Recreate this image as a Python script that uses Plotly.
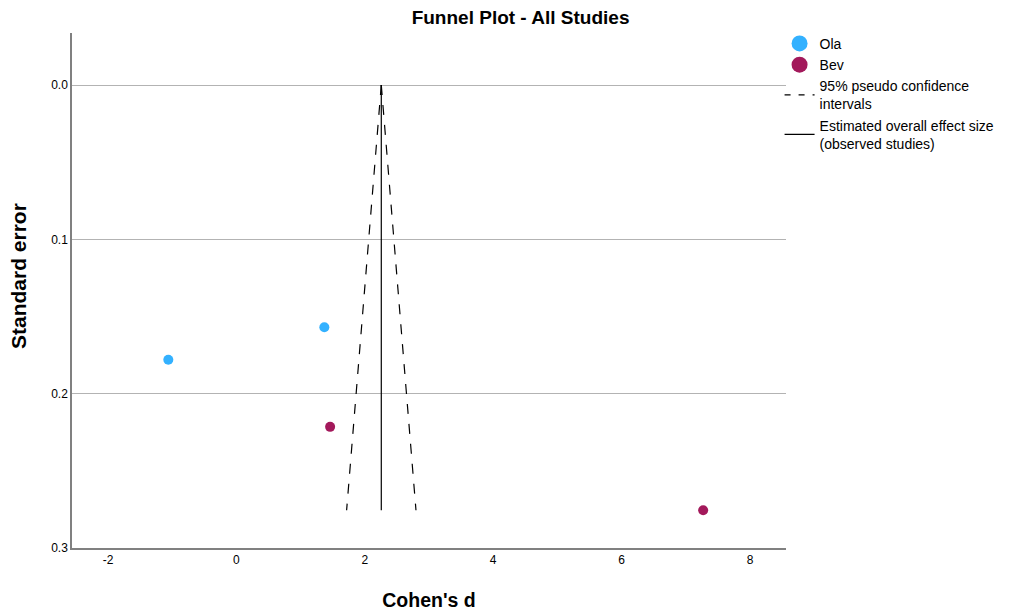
import plotly.graph_objects as go

# Study data
ola_d = [-1.06, 1.37]
ola_se = [0.178, 0.157]
bev_d = [1.46, 7.27]
bev_se = [0.2215, 0.2755]

# Pooled estimate and pseudo CI endpoints
effect_x = [2.257, 2.257]
effect_y = [0.0, 0.2755]
ci_left_x = [2.257, 1.717]
ci_right_x = [2.257, 2.797]
ci_y = [0.0, 0.2755]

y_ticks = [0.0, 0.1, 0.2, 0.3]
y_tick_text = ["0.0", "0.1", "0.2", "0.3"]
x_ticks = [-2, 0, 2, 4, 6, 8]
x_tick_text = ["-2", "0", "2", "4", "6", "8"]

ola_color = "#33B1FF"
bev_color = "#A3195B"

fig = go.Figure()

fig.add_trace(go.Scatter(x=ci_left_x, y=ci_y, mode="lines",
                         line=dict(color="black", width=1.2, dash="10px,10px"),
                         showlegend=False, hoverinfo="skip"))
fig.add_trace(go.Scatter(x=ci_right_x, y=ci_y, mode="lines",
                         line=dict(color="black", width=1.2, dash="10px,10px"),
                         showlegend=False, hoverinfo="skip"))
fig.add_trace(go.Scatter(x=effect_x, y=effect_y, mode="lines",
                         line=dict(color="black", width=1.2),
                         showlegend=False, hoverinfo="skip"))
fig.add_trace(go.Scatter(x=ola_d, y=ola_se, mode="markers", name="Ola",
                         marker=dict(color=ola_color, size=10), showlegend=False))
fig.add_trace(go.Scatter(x=bev_d, y=bev_se, mode="markers", name="Bev",
                         marker=dict(color=bev_color, size=10), showlegend=False))

# Legend entries
fig.add_trace(go.Scatter(x=[None], y=[None], mode="markers", name="Ola",
                         marker=dict(color=ola_color, size=16)))
fig.add_trace(go.Scatter(x=[None], y=[None], mode="markers", name="Bev",
                         marker=dict(color=bev_color, size=16)))
fig.add_trace(go.Scatter(x=[None], y=[None], mode="lines",
                         name="95% pseudo confidence<br>intervals",
                         line=dict(color="black", width=1.2, dash="6px,8px")))
fig.add_trace(go.Scatter(x=[None], y=[None], mode="lines",
                         name="Estimated overall effect size<br>(observed studies)",
                         line=dict(color="black", width=1.2)))

fig.update_layout(
    width=1019, height=603,
    margin=dict(l=64, r=241, t=25, b=63),
    paper_bgcolor="white", plot_bgcolor="white",
    font=dict(family="Liberation Sans, Arial, sans-serif", size=12, color="black"),
    title=dict(text="<b>Funnel Plot - All Studies</b>", x=0.503, xanchor="center",
               y=0.984, yanchor="middle", font=dict(size=19, color="black")),
    legend=dict(x=0.991, xanchor="left", y=1.01, yanchor="top",
                font=dict(size=14), bgcolor="rgba(0,0,0,0)", tracegroupgap=0),
    showlegend=True,
    annotations=[dict(text="<b>Standard error</b>", xref="paper", yref="paper",
                      x=-54 / 714, y=1 - 243 / 515, xanchor="center", yanchor="middle",
                      textangle=-90, showarrow=False, font=dict(size=21, color="black"))],
)
fig.update_xaxes(range=[-2.56, 8.56], tickvals=x_ticks, ticktext=x_tick_text,
                 showgrid=False, zeroline=False, automargin=False,
                 showline=True, linecolor="#808080", linewidth=1.5, ticks="",
                 tickfont=dict(size=12),
                 title=dict(text="<b>Cohen's d</b>", font=dict(size=19.5), standoff=28))
fig.update_yaxes(range=[0.3, -0.0337], tickvals=y_ticks, ticktext=y_tick_text,
                 showgrid=True, gridcolor="#B3B3B3", gridwidth=1.2, zeroline=False,
                 automargin=False,
                 showline=True, linecolor="#808080", linewidth=1.5, ticks="",
                 tickfont=dict(size=12))

fig.write_html("out.html")
